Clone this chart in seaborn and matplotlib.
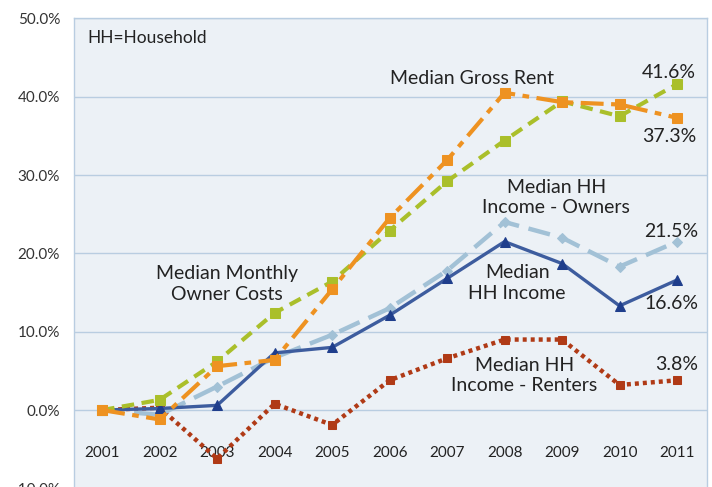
import numpy as np
import pandas as pd
import matplotlib
matplotlib.use("Agg")
import matplotlib.pyplot as plt
import seaborn as sns

# percent change since 2001
years = ["2001", "2002", "2003", "2004", "2005", "2006",
         "2007", "2008", "2009", "2010", "2011"]
hh_income = [0.0, 0.2, 0.6, 7.3, 8.0, 12.1, 16.8, 21.5, 18.7, 13.3, 16.6]
hh_income_owners = [0.0, -0.6, 3.0, 6.7, 9.6, 13.0, 17.8, 24.0, 22.0, 18.3, 21.5]
hh_income_renters = [0.0, 0.3, -6.2, 0.8, -1.9, 3.8, 6.6, 9.0, 9.0, 3.2, 3.8]
owner_costs = [0.0, 1.3, 6.2, 12.4, 16.4, 22.9, 29.2, 34.4, 39.4, 37.5, 41.6]
gross_rent = [0.0, -1.2, 5.6, 6.4, 15.4, 24.5, 31.9, 40.5, 39.3, 39.0, 37.3]

yticks = [-10, 0, 10, 20, 30, 40, 50]

sns.set_theme(style="white")
plt.rcParams["font.family"] = ["Lato", "DejaVu Sans"]

grid_col = "#B9CDE1"
text_col = "#222222"

fig = plt.figure(figsize=(7.12, 4.87), dpi=100)
ax = fig.add_axes([0.1039, -0.0029, 0.889, 0.9653])
ax.set_facecolor("#ECF1F6")

x = np.arange(len(years))
df = pd.DataFrame({
    "x": x,
    "income": hh_income,
    "owners": hh_income_owners,
    "renters": hh_income_renters,
    "owner_costs": owner_costs,
    "rent": gross_rent,
})

series = [
    # column, color, marker, markersize, linestyle, linewidth
    ("renters", "#B03A16", "s", 6.2, (0, (0.9, 0.9)), 3.2),
    ("owners", "#A2C1D6", "D", 5.2, (0, (5, 2.2)), 3.2),
    ("income", "#3D5C9E", "^", 7, "-", 2.4),
    ("owner_costs", "#AABF2A", "s", 7, (0, (3, 1.8)), 3.0),
    ("rent", "#EE9221", "s", 7, (0, (5.5, 1.8, 1.6, 1.8)), 3.0),
]
for col, color, marker, ms, ls, lw in series:
    mcol = "#1F3E8C" if col == "income" else color
    sns.lineplot(data=df, x="x", y=col, ax=ax, color=color, marker=marker,
                 markersize=ms, markerfacecolor=mcol, markeredgecolor=mcol,
                 linestyle=ls, linewidth=lw, zorder=3)

ax.set_xlim(-0.49, 10.52)
ax.set_ylim(-10, 50)
ax.set_yticks(yticks)
ax.set_yticklabels([f"{v:.1f}%" for v in yticks])
ax.set_xticks(x)
ax.set_xticklabels(years)
ax.set_xlabel("")
ax.set_ylabel("")

ax.yaxis.grid(True, color=grid_col, linewidth=1.0)
ax.xaxis.grid(False)
ax.set_axisbelow(True)

ax.spines["bottom"].set_position(("data", 0))
ax.spines["bottom"].set_visible(False)
for s in ["left", "top", "right"]:
    ax.spines[s].set_color(grid_col)
    ax.spines[s].set_linewidth(1.0)

ax.tick_params(axis="x", length=0, pad=26, labelsize=11, labelcolor=text_col)
ax.tick_params(axis="y", length=0, pad=10, labelsize=11, labelcolor="#333333")

fs = 14
ax.text(-0.26, 47.5, "HH=Household", fontsize=12.5, color=text_col,
        ha="left", va="center")
ax.text(5.01, 42.35, "Median Gross Rent", fontsize=fs, color=text_col,
        ha="left", va="center")
ax.text(10.33, 43.1, "41.6%", fontsize=fs, color=text_col, ha="right", va="center")
ax.text(10.33, 34.95, "37.3%", fontsize=fs, color=text_col, ha="right", va="center")
ax.text(7.9, 27.1, "Median HH\nIncome - Owners", fontsize=fs, color=text_col,
        ha="center", va="center", linespacing=1.25)
ax.text(10.37, 22.8, "21.5%", fontsize=fs, color=text_col, ha="right", va="center")
ax.text(2.17, 16.1, "Median Monthly\nOwner Costs", fontsize=fs, color=text_col,
        ha="center", va="center", linespacing=1.25)
ax.text(7.22, 16.2, "Median\nHH Income", fontsize=fs, color=text_col,
        ha="center", va="center", linespacing=1.25)
ax.text(10.37, 13.65, "16.6%", fontsize=fs, color=text_col, ha="right", va="center")
ax.text(7.34, 4.4, "Median HH\nIncome - Renters", fontsize=fs, color=text_col,
        ha="center", va="center", linespacing=1.25)
ax.text(10.37, 5.87, "3.8%", fontsize=fs, color=text_col, ha="right", va="center")

fig.savefig("out.png", dpi=100, facecolor="white")
